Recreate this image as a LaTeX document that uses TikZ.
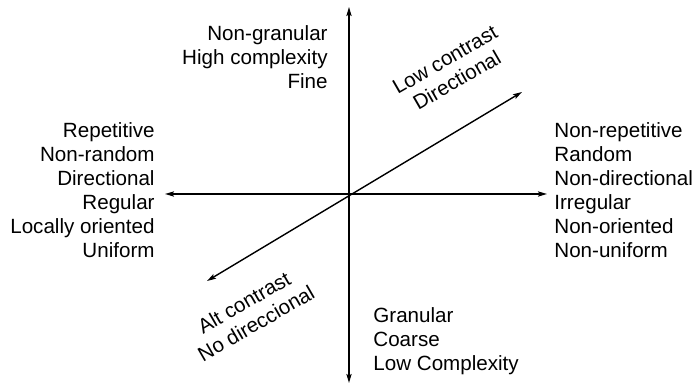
\documentclass[tikz,border=0pt]{standalone}
\usepackage{fontspec}
\setmainfont{Liberation Sans}
\usetikzlibrary{arrows.meta}

\begin{document}
\begin{tikzpicture}[x=0.5pt,y=0.5pt,
    every node/.style={inner sep=0pt,font=\fontsize{10.3pt}{12pt}\selectfont}]
    \useasboundingbox (-349,-190) rectangle (347,194);
    \coordinate (0) at (0,0);
    \coordinate (1) at (0,187);
    \coordinate (2) at (0,-189);
    \coordinate (3) at (-184,0);
    \coordinate (4) at (198,0);
    \coordinate (5) at (173,102);
    \coordinate (6) at (-142,-87);

    \node (7) at (-194,4) [anchor=east,align=right] {Repetitive\\Non-random\\Directional\\Regular\\Locally oriented\\Uniform};
    \node (8) at (205,4) [anchor=west,align=left] {Non-repetitive\\Random\\Non-directional\\Irregular\\Non-oriented\\Non-uniform};
    \node (9) at (-21,137) [anchor=east,align=right] {Non-granular\\High complexity\\Fine};
    \node (10) at (24,-147) [anchor=west,align=left] {Granular\\Coarse\\Low Complexity};
    \node (11) at (102,124) [rotate=30,align=center] {Low contrast\\Directional};
    \node (12) at (-99,-119) [rotate=30,align=center] {Alt contrast\\No direccional};

    \path[{Stealth[length=4.5pt,width=2.6pt,inset=0.8pt]}-{Stealth[length=4.5pt,width=2.6pt,inset=0.8pt]},black,line width=0.7pt]
    (2) edge (1)
    (3) edge (4)
    (6) edge (5)
    ;
  \end{tikzpicture}
\end{document}
